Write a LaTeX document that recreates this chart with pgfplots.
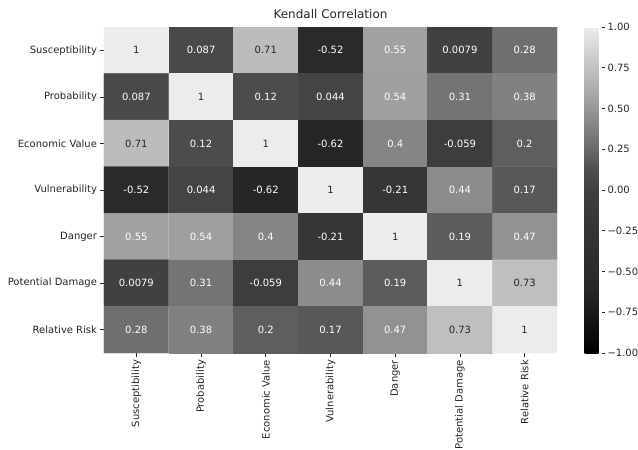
\documentclass[border=0pt]{standalone}
\usepackage{pgfplots}
\pgfplotsset{compat=1.18}
\usepackage{fontspec}
\setmainfont{DejaVu Sans}
\definecolor{txt}{HTML}{262626}
\begin{document}
\fontsize{10bp}{12bp}\selectfont
\begin{tikzpicture}
\useasboundingbox (-104bp,-97bp) rectangle (534bp,353bp);
\begin{axis}[
  at={(0,0)}, anchor=south west,
  scale only axis, width=453bp, height=326bp,
  xmin=-0.5, xmax=6.5, ymin=-0.5, ymax=6.5,
  y dir=reverse,
  enlargelimits=false,
  axis line style={draw=none},
  tick align=outside, major tick length=3.5bp,
  tick style={color=txt, line width=0.6bp},
  xtick pos=left, ytick pos=left,
  xtick={0,...,6}, ytick={0,...,6},
  xticklabels={Susceptibility,Probability,Economic Value,Vulnerability,Danger,Potential Damage,Relative Risk},
  yticklabels={Susceptibility,Probability,Economic Value,Vulnerability,Danger,Potential Damage,Relative Risk},
  xticklabel style={rotate=90, anchor=east, text=txt, font=\fontsize{10bp}{12bp}\selectfont},
  yticklabel style={text=txt, font=\fontsize{10bp}{12bp}\selectfont},
  title={Kendall Correlation},
  title style={at={(0.5,1)}, anchor=south, yshift=-1bp, text=txt, font=\fontsize{12bp}{14bp}\selectfont},
  colormap={kgray}{gray(0pt)=(0); gray(25pt)=(0.10); gray(38pt)=(0.15); gray(48pt)=(0.165); gray(79pt)=(0.21); gray(100pt)=(0.25); gray(112pt)=(0.30); gray(120pt)=(0.37); gray(128pt)=(0.435); gray(140pt)=(0.52); gray(155pt)=(0.63); gray(173pt)=(0.75); gray(200pt)=(0.925)},
  point meta min=-1, point meta max=1,
  colorbar,
  colorbar style={
    at={(parent axis.north east)}, anchor=north west, xshift=19bp,
    width=17bp, height=326bp,
    axis line style={draw=none},
    tick align=outside, major tick length=3.5bp,
    tick style={color=txt, line width=0.6bp},
    ytick={-1,-0.75,-0.5,-0.25,0,0.25,0.5,0.75,1},
    yticklabels={−1.00,−0.75,−0.50,−0.25,0.00,0.25,0.50,0.75,1.00},
    yticklabel style={text=txt, xshift=-1bp, font=\fontsize{10bp}{12bp}\selectfont},
    ytick pos=right, yticklabel pos=right,
  },
]
\addplot[matrix plot*, mesh/cols=7, point meta=explicit] table[meta=c] {
x y c
0 0 1
1 0 0.087
2 0 0.71
3 0 -0.52
4 0 0.55
5 0 0.0079
6 0 0.28
0 1 0.087
1 1 1
2 1 0.12
3 1 0.044
4 1 0.54
5 1 0.31
6 1 0.38
0 2 0.71
1 2 0.12
2 2 1
3 2 -0.62
4 2 0.4
5 2 -0.059
6 2 0.2
0 3 -0.52
1 3 0.044
2 3 -0.62
3 3 1
4 3 -0.21
5 3 0.44
6 3 0.17
0 4 0.55
1 4 0.54
2 4 0.4
3 4 -0.21
4 4 1
5 4 0.19
6 4 0.47
0 5 0.0079
1 5 0.31
2 5 -0.059
3 5 0.44
4 5 0.19
5 5 1
6 5 0.73
0 6 0.28
1 6 0.38
2 6 0.2
3 6 0.17
4 6 0.47
5 6 0.73
6 6 1
};
% light-text labels
\addplot[only marks, mark=none, nodes near coords, point meta=explicit symbolic,
  nodes near coords style={anchor=center, text=white, font=\fontsize{10bp}{12bp}\selectfont}] table[meta=l] {
x y l
1 0 0.087
3 0 -0.52
4 0 0.55
5 0 0.0079
6 0 0.28
0 1 0.087
2 1 0.12
3 1 0.044
4 1 0.54
5 1 0.31
6 1 0.38
1 2 0.12
3 2 -0.62
4 2 0.4
5 2 -0.059
6 2 0.2
0 3 -0.52
1 3 0.044
2 3 -0.62
4 3 -0.21
5 3 0.44
6 3 0.17
0 4 0.55
1 4 0.54
2 4 0.4
3 4 -0.21
5 4 0.19
6 4 0.47
0 5 0.0079
1 5 0.31
2 5 -0.059
3 5 0.44
4 5 0.19
0 6 0.28
1 6 0.38
2 6 0.2
3 6 0.17
4 6 0.47
};
% dark-text labels
\addplot[only marks, mark=none, nodes near coords, point meta=explicit symbolic,
  nodes near coords style={anchor=center, text=txt, font=\fontsize{10bp}{12bp}\selectfont}] table[meta=l] {
x y l
0 0 1
2 0 0.71
1 1 1
0 2 0.71
2 2 1
3 3 1
4 4 1
5 5 1
6 5 0.73
5 6 0.73
6 6 1
};
\end{axis}
\end{tikzpicture}
\end{document}
